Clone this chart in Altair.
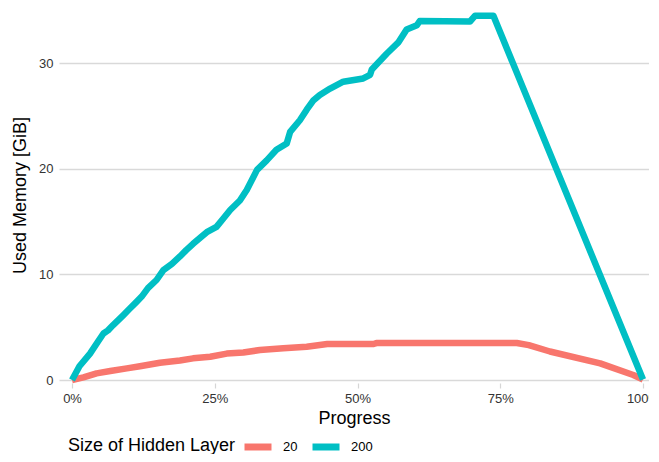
import altair as alt
import pandas as pd

teal_x = [0, 0.013, 0.0315, 0.045, 0.055, 0.063, 0.072, 0.09, 0.1, 0.113, 0.122, 0.133, 0.148, 0.16, 0.175,
          0.189, 0.2, 0.212, 0.225, 0.236, 0.253, 0.265, 0.277, 0.294, 0.306, 0.324, 0.341, 0.358, 0.376, 0.382,
          0.399, 0.411, 0.423, 0.434, 0.452, 0.475, 0.51, 0.522, 0.525, 0.551, 0.572, 0.586, 0.604, 0.609, 0.697,
          0.706, 0.738, 0.869, 1.0]
teal_y = [0, 1.3, 2.5, 3.6, 4.4, 4.7, 5.2, 6.15, 6.7, 7.4, 7.9, 8.7, 9.47, 10.4, 11.0,
          11.7, 12.3, 12.9, 13.5, 14.0, 14.5, 15.3, 16.1, 17.0, 18.0, 19.9, 20.8, 21.8, 22.4, 23.5,
          24.6, 25.6, 26.5, 27.0, 27.6, 28.25, 28.56, 28.9, 29.4, 30.9, 32.0, 33.2, 33.6, 34.0, 33.95,
          34.5, 34.5, 17.25, 0.05]

sal_x = [0, 0.02, 0.043, 0.067, 0.096, 0.119, 0.154, 0.189, 0.212, 0.242, 0.271, 0.3, 0.329,
         0.37, 0.411, 0.434, 0.447, 0.452, 0.528, 0.533, 0.779, 0.80, 0.837, 0.925, 0.983, 1.0]
sal_y = [0, 0.25, 0.63, 0.85, 1.1, 1.3, 1.64, 1.85, 2.05, 2.2, 2.5, 2.6, 2.84,
         3.0, 3.15, 3.31, 3.41, 3.41, 3.41, 3.5, 3.5, 3.3, 2.7, 1.58, 0.47, 0.05]

groups = ["20", "200"]
colors = ["#F8766D", "#00BFC4"]
x_ticks = [0, 0.25, 0.5, 0.75, 1.0]
y_ticks = [0, 10, 20, 30]

rows = []
for i, (x, y) in enumerate(zip(sal_x, sal_y)):
    rows.append({"progress": x, "mem": y, "size": "20", "order": i})
for i, (x, y) in enumerate(zip(teal_x, teal_y)):
    rows.append({"progress": x, "mem": y, "size": "200", "order": i})
df = pd.DataFrame(rows)

FONT = "Liberation Sans"
LAB = 13
TIT = 18

chart = alt.Chart(df).mark_line(strokeWidth=6.5, strokeJoin="round").encode(
    x=alt.X("progress:Q",
            scale=alt.Scale(domain=[-0.0228, 1.0105], nice=False, zero=False),
            axis=alt.Axis(values=x_ticks, format=".0%", title="Progress", grid=False,
                          domain=False, ticks=True, tickSize=5, tickColor="#d6d6d6", tickWidth=1.2,
                          offset=3, labelPadding=4, labelFontSize=LAB, labelColor="#333333",
                          labelFont=FONT, titleFont=FONT, titleFontSize=TIT, titleColor="#000000",
                          titleFontWeight="normal", titlePadding=4)),
    y=alt.Y("mem:Q",
            scale=alt.Scale(domain=[0, 35.04], nice=False, zero=False),
            axis=alt.Axis(values=y_ticks, title="Used Memory [GiB]", grid=True, gridColor="#d9d9d9",
                          gridWidth=1.3, domain=False, ticks=False, labelPadding=6,
                          labelFontSize=LAB, labelColor="#333333", labelFont=FONT,
                          titleFont=FONT, titleFontSize=TIT, titleColor="#000000",
                          titleFontWeight="normal", titlePadding=9)),
    color=alt.Color("size:N", scale=alt.Scale(domain=groups, range=colors),
                    legend=alt.Legend(title="Size of Hidden Layer", orient="none", legendX=9, legendY=420,
                                      direction="horizontal", titleOrient="left", gridAlign="none",
                                      symbolType="stroke", symbolStrokeWidth=7, symbolSize=729,
                                      labelFont=FONT, labelFontSize=LAB, labelColor="#000000",
                                      titleFont=FONT, titleFontSize=TIT, titleColor="#000000",
                                      titleFontWeight="normal", titlePadding=5, labelOffset=8,
                                      columnPadding=0)),
    detail="size:N",
    order="order:Q",
).properties(
    width=590, height=370,
    autosize=alt.AutoSizeParams(type="none"),
    padding={"left": 51, "top": 2, "right": 0, "bottom": 74},
).configure_view(stroke=None)

chart.save("out.html", embed_options={"renderer": "svg", "actions": False})
